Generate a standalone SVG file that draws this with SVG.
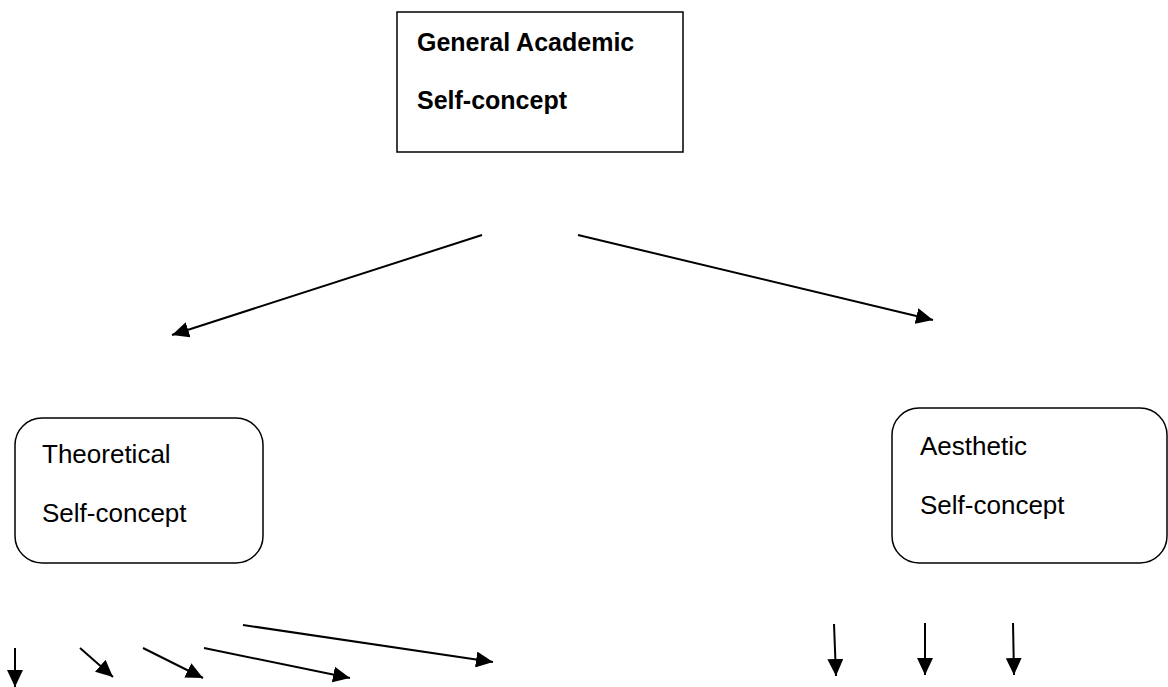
<svg xmlns="http://www.w3.org/2000/svg" width="1168" height="687" viewBox="0 0 1168 687">
<style>
.box{fill:#fff;stroke:#000;stroke-width:1.5}
.t{font-family:"Liberation Sans",Arial,sans-serif;font-size:26px;fill:#000}
.b{font-family:"Liberation Sans",Arial,sans-serif;font-size:25px;font-weight:bold;fill:#000}
.c{stroke:#000;stroke-width:2;fill:none;marker-end:url(#ah)}
</style>
<defs>
<marker id="ah" markerUnits="userSpaceOnUse" markerWidth="18" markerHeight="16" refX="17" refY="8" orient="auto">
<path d="M0,0 L17,8 L0,16 z" fill="#000"/>
</marker>
</defs>
<rect width="1168" height="687" fill="#fff"/>
<g id="general">
<rect class="box" x="397" y="12" width="286" height="140"/>
<text class="b" x="417" y="51">General Academic</text>
<text class="b" x="417" y="109">Self-concept</text>
</g>
<g id="theoretical">
<rect class="box" x="15" y="418" width="248" height="145" rx="27"/>
<text class="t" x="42" y="463">Theoretical</text>
<text class="t" x="42" y="522">Self-concept</text>
</g>
<g id="aesthetic">
<rect class="box" x="892" y="408" width="275" height="155" rx="27"/>
<text class="t" x="920" y="455">Aesthetic</text>
<text class="t" x="920" y="514">Self-concept</text>
</g>
<g id="connectors">
<path class="c" d="M482,235 L172,335"/>
<path class="c" d="M578,235 L933,320"/>
<path class="c" d="M15,648 L15,687"/>
<path class="c" d="M80,648 L113,677"/>
<path class="c" d="M143,648 L203,678"/>
<path class="c" d="M204,648 L350,678"/>
<path class="c" d="M243,625 L493,662"/>
<path class="c" d="M834,624 L836,676"/>
<path class="c" d="M925,623 L925,675"/>
<path class="c" d="M1013,623 L1014,675"/>
</g>
</svg>
